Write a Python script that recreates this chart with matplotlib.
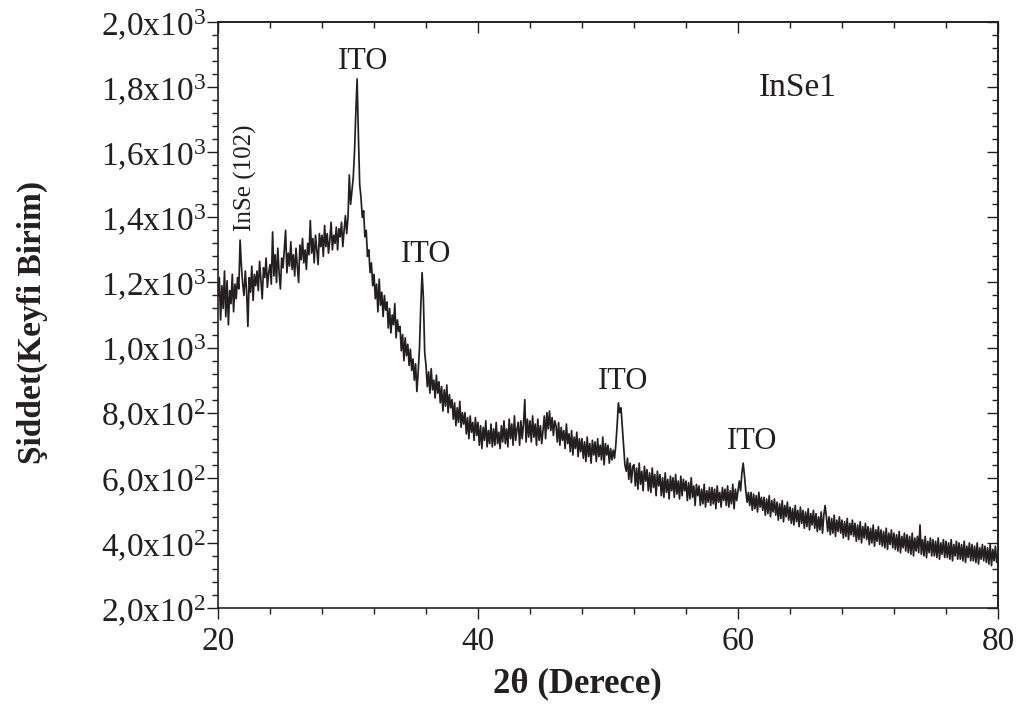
import numpy as np
import matplotlib
matplotlib.use("Agg")
import matplotlib.pyplot as plt
from matplotlib.ticker import FixedLocator, MultipleLocator

plt.rcParams['font.family'] = ['Liberation Serif', 'DejaVu Serif']
plt.rcParams['mathtext.fontset'] = 'custom'
plt.rcParams['mathtext.rm'] = 'Liberation Serif'
plt.rcParams['mathtext.it'] = 'Liberation Serif:italic'
plt.rcParams['mathtext.bf'] = 'Liberation Serif:bold'

# 2-theta grid (degrees), 0.1 deg step from 20 to 80
two_theta = np.round(np.arange(200, 801) / 10.0, 1)

# Intensity, one row per degree (x.0 ... x.9)
intensity = [
    1160, 1215, 1085, 1190, 1120, 1235, 1095, 1205, 1070, 1175,  # 20
    1135, 1225, 1110, 1195, 1150, 1215, 1180, 1330, 1250, 1195,  # 21
    1160, 1235, 1175, 1065, 1215, 1170, 1250, 1145, 1225, 1190,  # 22
    1235, 1175, 1265, 1205, 1150, 1245, 1215, 1275, 1185, 1230,  # 23
    1255, 1195, 1355, 1220, 1285, 1200, 1305, 1230, 1180, 1275,  # 24
    1245, 1300, 1360, 1230, 1290, 1250, 1325, 1240, 1285, 1220,  # 25
    1305, 1250, 1200, 1315, 1270, 1335, 1260, 1300, 1240, 1320,  # 26
    1285, 1390, 1290, 1335, 1260, 1345, 1300, 1255, 1350, 1310,  # 27
    1345, 1280, 1375, 1310, 1350, 1290, 1330, 1385, 1300, 1345,  # 28
    1320, 1370, 1300, 1365, 1340, 1385, 1310, 1360, 1405, 1350,  # 29
    1400, 1530, 1440, 1480, 1520, 1600, 1720, 1825, 1650, 1500,  # 30
    1460, 1400, 1420, 1340, 1360, 1280, 1300, 1230, 1260, 1190,  # 31
    1225, 1150, 1195, 1110, 1210, 1130, 1170, 1095, 1160, 1115,  # 32
    1140, 1060, 1120, 1045, 1100, 1070, 1135, 1030, 1085, 1050,  # 33
    1065, 990, 1040, 960, 1030, 975, 1010, 945, 995, 930,        # 34
    965, 900, 950, 865, 925, 1000, 1130, 1230, 1150, 985,        # 35
    945, 880, 925, 860, 935, 870, 900, 845, 915, 860,            # 36
    895, 830, 880, 805, 870, 820, 885, 800, 855, 815,            # 37
    840, 780, 830, 760, 815, 770, 835, 755, 800, 765,            # 38
    800, 735, 785, 720, 790, 740, 770, 715, 785, 730,            # 39
    770, 700, 760, 690, 755, 715, 775, 695, 745, 705,            # 40
    765, 695, 750, 700, 770, 705, 740, 690, 760, 710,            # 41
    775, 705, 750, 695, 780, 720, 765, 700, 790, 715,            # 42
    750, 770, 700, 775, 720, 765, 840, 710, 780, 725,            # 43
    775, 710, 790, 725, 765, 700, 780, 715, 760, 705,            # 44
    745, 790, 720, 800, 750, 805, 745, 785, 730, 775,            # 45
    760, 710, 770, 700, 755, 715, 745, 690, 765, 705,            # 46
    735, 680, 745, 670, 725, 690, 740, 665, 720, 680,            # 47
    720, 660, 710, 650, 725, 665, 705, 645, 715, 670,            # 48
    710, 650, 720, 665, 700, 655, 725, 640, 705, 670,            # 49
    700, 645, 690, 655, 685, 660, 700, 760, 830, 800,            # 50
    815, 755, 690, 640, 620, 660, 595, 645, 585, 635,            # 51
    640, 575, 630, 565, 645, 580, 620, 560, 635, 590,            # 52
    625, 560, 615, 555, 630, 570, 610, 545, 620, 575,            # 53
    610, 545, 600, 540, 615, 555, 595, 535, 605, 560,            # 54
    600, 540, 610, 550, 590, 535, 605, 545, 595, 560,            # 55
    590, 530, 585, 535, 600, 540, 575, 515, 580, 545,            # 56
    575, 515, 565, 520, 580, 510, 560, 525, 570, 515,            # 57
    570, 520, 565, 505, 575, 525, 555, 510, 570, 530,            # 58
    565, 515, 575, 510, 560, 520, 580, 505, 565, 530,            # 59
    560, 590, 560, 615, 645, 605, 560, 525, 555, 515,            # 60
    555, 500, 550, 505, 545, 495, 555, 510, 540, 500,            # 61
    540, 485, 535, 490, 545, 480, 530, 495, 535, 485,            # 62
    525, 470, 520, 475, 530, 465, 515, 480, 525, 470,            # 63
    510, 460, 505, 455, 515, 465, 500, 450, 510, 460,            # 64
    500, 445, 495, 450, 505, 440, 490, 455, 500, 445,            # 65
    490, 435, 480, 440, 495, 430, 485, 515, 480, 435,            # 66
    480, 425, 475, 430, 485, 420, 470, 435, 480, 430,            # 67
    470, 415, 465, 420, 475, 410, 460, 425, 470, 420,            # 68
    460, 405, 455, 410, 465, 400, 450, 415, 460, 410,            # 69
    450, 395, 445, 400, 455, 390, 440, 405, 450, 395,            # 70
    440, 390, 435, 385, 445, 380, 430, 395, 440, 385,            # 71
    430, 380, 425, 375, 435, 370, 420, 385, 430, 375,            # 72
    425, 370, 420, 365, 430, 360, 415, 375, 420, 370,            # 73
    455, 365, 410, 360, 420, 355, 405, 370, 415, 360,            # 74
    410, 360, 405, 355, 415, 350, 400, 365, 410, 355,            # 75
    405, 355, 400, 350, 410, 345, 395, 360, 405, 350,            # 76
    400, 350, 395, 345, 405, 340, 390, 355, 400, 345,            # 77
    395, 345, 390, 340, 400, 335, 385, 350, 395, 345,            # 78
    390, 340, 385, 335, 395, 330, 380, 345, 390, 340,            # 79
    360,                                                         # 80
]

y_tick_values = [200, 400, 600, 800, 1000, 1200, 1400, 1600, 1800, 2000]
y_tick_labels = [r'$2{,}0\mathrm{x}10^{2}$', r'$4{,}0\mathrm{x}10^{2}$',
                 r'$6{,}0\mathrm{x}10^{2}$', r'$8{,}0\mathrm{x}10^{2}$',
                 r'$1{,}0\mathrm{x}10^{3}$', r'$1{,}2\mathrm{x}10^{3}$',
                 r'$1{,}4\mathrm{x}10^{3}$', r'$1{,}6\mathrm{x}10^{3}$',
                 r'$1{,}8\mathrm{x}10^{3}$', r'$2{,}0\mathrm{x}10^{3}$']
x_tick_values = [20, 40, 60, 80]

peak_labels = ['ITO', 'ITO', 'ITO', 'ITO']
peak_label_x = [31.15, 36.0, 51.15, 61.1]
peak_label_y = [1880, 1285, 895, 710]

line_color = '#231f20'

fig = plt.figure(figsize=(10.24, 7.04), dpi=100)
ax = fig.add_axes([218/1024, 1 - 608/704, (998-218)/1024, (608-22)/704])

ax.plot(two_theta, intensity, color=line_color, lw=1.25)

ax.set_xlim(20, 80)
ax.set_ylim(200, 2000)

ax.xaxis.set_major_locator(FixedLocator(x_tick_values))
ax.xaxis.set_minor_locator(MultipleLocator(4))
ax.yaxis.set_major_locator(FixedLocator(y_tick_values))
ax.set_yticklabels(y_tick_labels)
ax.yaxis.set_minor_locator(MultipleLocator(40))

for s in ax.spines.values():
    s.set_linewidth(1.2)
    s.set_color(line_color)

ax.tick_params(which='major', direction='out', length=8, width=1.0,
               colors=line_color, labelsize=24, labelcolor=line_color)
ax.tick_params(which='minor', direction='out', length=4.5, width=1.0,
               colors=line_color)
ax.tick_params(axis='x', which='major', pad=5)
ax.tick_params(axis='y', which='major', pad=1)

# mirrored ticks (inward) on top and right
secx = ax.secondary_xaxis('top')
secx.xaxis.set_major_locator(FixedLocator(x_tick_values))
secx.xaxis.set_minor_locator(MultipleLocator(4))
secx.tick_params(which='major', direction='in', length=8, width=1.0,
                 colors=line_color, labeltop=False)
secx.tick_params(which='minor', direction='in', length=4.5, width=1.0,
                 colors=line_color)
secx.spines['top'].set_linewidth(1.2)
secx.spines['top'].set_color(line_color)

secy = ax.secondary_yaxis('right')
secy.yaxis.set_major_locator(FixedLocator(y_tick_values))
secy.yaxis.set_minor_locator(MultipleLocator(40))
secy.tick_params(which='major', direction='in', length=8, width=1.0,
                 colors=line_color, labelright=False)
secy.tick_params(which='minor', direction='in', length=4.5, width=1.0,
                 colors=line_color)
secy.spines['right'].set_linewidth(1.2)
secy.spines['right'].set_color(line_color)

ax.set_xlabel('2θ (Derece)', fontsize=25, fontweight='bold', color=line_color)
ax.xaxis.label.set_va('center')
ax.xaxis.set_label_coords((577 - 218) / 780, (608 - 684) / 586)

ax.set_ylabel('Şiddet(Keyfi Birim)', fontsize=24, fontweight='bold', color=line_color)
ax.yaxis.label.set_va('center')
ax.yaxis.set_label_coords((32 - 218) / 780, (608 - 322) / 586)

for lab, lx, ly in zip(peak_labels, peak_label_x, peak_label_y):
    ax.text(lx, ly, lab, fontsize=22, ha='center', va='center', color=line_color)

ax.text(64.6, 1797, 'InSe1', fontsize=24, ha='center', va='center', color=line_color)
ax.text(22.1, 1521, 'InSe (102)', fontsize=18, rotation=90, ha='center', va='center',
        color=line_color)

fig.savefig('out.png', dpi=100)
